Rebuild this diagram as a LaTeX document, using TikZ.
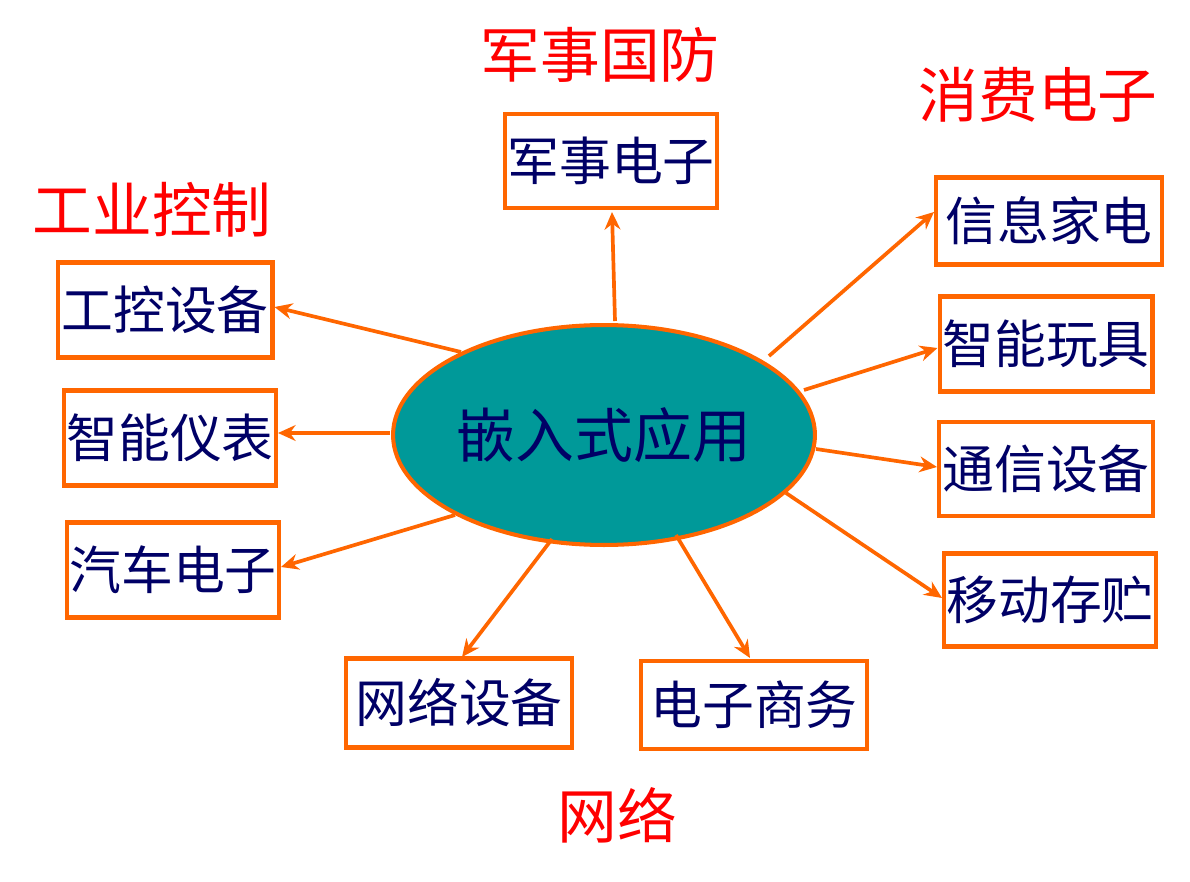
\documentclass[tikz,border=0pt]{standalone}
\usepackage{fontspec}
\setmainfont{Noto Sans CJK SC}
\usetikzlibrary{arrows.meta,shapes.geometric}
\definecolor{org}{RGB}{255,102,0}
\definecolor{navy}{RGB}{0,0,102}
\definecolor{tealc}{RGB}{0,153,153}
\definecolor{redc}{RGB}{255,0,0}
\begin{document}
\begin{tikzpicture}[x=0.02cm,y=-0.02cm,
  box/.style={draw=org,line width=2.3pt,text=navy,font=\fontsize{29.5}{32}\selectfont,inner sep=0pt,minimum height=1.8cm},
  cat/.style={text=redc,font=\fontsize{34}{38}\selectfont,inner sep=0pt},
  conn/.style={draw=org,line width=2.1pt,-{Stealth[length=10pt,width=9pt]}}]
\useasboundingbox (0,0) rectangle (1190,882);
\node[ellipse,draw=org,line width=2.3pt,fill=tealc,minimum width=8.44cm,minimum height=4.4cm,inner sep=0pt,text=navy,font=\fontsize{33.5}{36}\selectfont] (c) at (604,435) {嵌入式应用};
\node[box,minimum width=4.24cm,minimum height=1.88cm] (jsdz) at (611,161) {军事电子};
\node[box,minimum width=4.3cm,minimum height=1.9cm] (gksb) at (165,310) {工控设备};
\node[box,minimum width=4.24cm,minimum height=1.9cm] (znyb) at (170,438) {智能仪表};
\node[box,minimum width=4.24cm,minimum height=1.9cm] (qcdz) at (173,570) {汽车电子};
\node[box,minimum width=4.52cm,minimum height=1.78cm] (wlsb) at (459,703) {网络设备};
\node[box,minimum width=4.52cm,minimum height=1.76cm] (dzsw) at (754,705) {电子商务};
\node[box,minimum width=4.52cm,minimum height=1.74cm] (xxjd) at (1049,221) {信息家电};
\node[box,minimum width=4.26cm,minimum height=1.9cm] (znwj) at (1046,344) {智能玩具};
\node[box,minimum width=4.28cm,minimum height=1.88cm] (txsb) at (1046,469) {通信设备};
\node[box,minimum width=4.24cm,minimum height=1.86cm] (ydcz) at (1050,600) {移动存贮};
\node[cat] (l1) at (600,55) {军事国防};
\node[cat] (l2) at (1038,95) {消费电子};
\node[cat] (l3) at (152,210) {工业控制};
\node[cat] (l4) at (617,815) {网络};
\coordinate (s1) at (615,321);
\coordinate (s2) at (461,352);
\coordinate (s3) at (390,433);
\coordinate (s4) at (455,515);
\coordinate (s5) at (552,539);
\coordinate (s6) at (676,535);
\coordinate (s7) at (769,356);
\coordinate (s8) at (804,390);
\coordinate (s9) at (816,449);
\coordinate (s10) at (786,493);
\draw[conn] (s1) -- (612,212) coordinate (e1);
\draw[conn] (s2) -- (gksb.east |- 0,307);
\draw[conn] (s3) -- (znyb.east |- 0,433);
\draw[conn] (s4) -- (qcdz.east |- 0,567);
\draw[conn] (s5) -- (462,657);
\draw[conn] (s6) -- (750,658);
\draw[conn] (s7) -- (xxjd.west |- 0,212);
\draw[conn] (s8) -- (znwj.west |- 0,348);
\draw[conn] (s9) -- (txsb.west |- 0,467);
\draw[conn] (s10) -- (ydcz.west |- 0,598);
\end{tikzpicture}
\end{document}
